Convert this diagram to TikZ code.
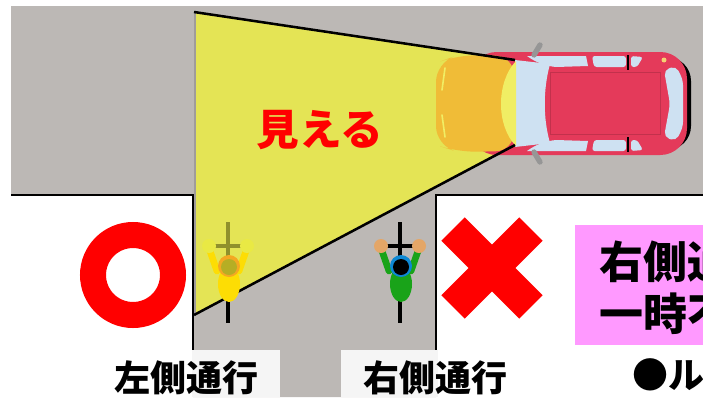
\documentclass[tikz,border=0pt]{standalone}
\usepackage{fontspec}
\usepackage{xcolor}
\usetikzlibrary{positioning}
\newfontfamily\jp{Noto Sans CJK JP}
\definecolor{road}{RGB}{188,184,181}
\definecolor{beam}{RGB}{228,228,85}
\definecolor{carred}{RGB}{228,58,90}
\definecolor{hood}{RGB}{240,188,55}
\definecolor{lit}{RGB}{240,238,100}
\definecolor{glass}{RGB}{206,225,242}
\definecolor{mirror}{RGB}{150,150,150}
\definecolor{pinkbg}{RGB}{255,153,255}
\definecolor{labelbg}{RGB}{245,245,245}
\tikzset{kerb/.style={line width=2.2pt, line join=miter}}
\tikzset{beamedge/.style={line width=1.9pt, black}}
\tikzset{lbl/.style={inner sep=0pt, font=\jp\bfseries\fontsize{27}{30}\selectfont}}
\tikzset{seen/.style={inner sep=0pt, text=red, font=\jp\bfseries\fontsize{32}{36}\selectfont}}
\tikzset{ruletext/.style={inner sep=0pt, align=left, font=\jp\bfseries\fontsize{33}{39}\selectfont}}
\tikzset{wheel/.style={line width=2.4pt, draw=bar}}
\tikzset{arm/.style={line width=5pt, draw=shirt, line cap=round}}

\begin{document}
\begin{tikzpicture}[x=0.75pt, y=-0.75pt]
    \useasboundingbox (0,0) rectangle (703,397);
    \clip (0,0) rectangle (703,397);

    % crossroads
    \fill[road] (11,6) -- (703,6) -- (703,195) -- (436,195) -- (436,397) -- (193,397) -- (193,195) -- (11,195) -- cycle;
    \draw[kerb] (11,195) -- (193,195) -- (193,350);
    \draw[kerb] (703,195) -- (436,195) -- (436,350);

    % headlight beam
    \fill[beam] (194,12) -- (515,60) -- (515,145) -- (194,315) -- cycle;
    \draw[road!85!black, line width=1pt] (195,13) -- (195,314);

    % car, seen from above
    \fill[black, rounded corners=18] (600,57) rectangle (691,150);
    \fill[carred, rounded corners=20] (470,52) rectangle (687,155);
    \fill[hood, rounded corners=14] (514,56) -- (458,55) -- (436,63) -- (436,145) -- (458,152) -- (514,151) -- cycle;
    \draw[lit, line width=1.2pt, line cap=round] (445,68) -- (442,90);
    \draw[lit, line width=1.2pt, line cap=round] (442,115) -- (445,137);
    \fill[glass] (515,60) -- (550,64) .. controls (543,90) and (543,118) .. (550,143) -- (515,147) -- cycle;
    \fill[lit] (516,61) .. controls (496,82) and (496,126) .. (516,146) -- cycle;
    \draw[carred!85!black, line width=0.4pt] (550,72) rectangle (660,134);
    \fill[glass] (527,56) -- (586,56) -- (588,66) -- (556,67) .. controls (545,66) and (535,62) .. cycle;
    \fill[glass] (527,151) -- (586,151) -- (588,141) -- (556,140) .. controls (545,141) and (535,145) .. cycle;
    \fill[glass, rounded corners=2] (592,56) -- (626,56) -- (626,67) -- (594,67) -- cycle;
    \fill[glass, rounded corners=2] (592,151) -- (626,151) -- (626,140) -- (594,140) -- cycle;
    \fill[glass, rounded corners=2] (631,56) -- (643,57) -- (637,67) -- (631,67) -- cycle;
    \fill[glass, rounded corners=2] (631,151) -- (643,150) -- (637,140) -- (631,140) -- cycle;
    \fill[glass, rounded corners=4] (664,70) -- (676,66) -- (683,80) -- (683,127) -- (676,141) -- (664,137) -- (670,104) -- cycle;
    \draw[black, line width=1.2pt] (628,55) -- (628,70) (628,137) -- (628,152);
    \draw[mirror, line width=4pt, line cap=round] (534,55) -- (540,45);
    \draw[mirror, line width=4pt, line cap=round] (534,152) -- (540,162);
    \fill[hood!70!white] (664,60) circle [radius=2.5];

    \draw[beamedge] (194,12) -- (515,60);
    \draw[beamedge] (194,315) -- (515,145);

    % cyclist keeping left, inside the beam
    \begin{scope}[shift={(228,246)}]
        \colorlet{bar}{black!35!beam!80!olive}
        \colorlet{shirt}{yellow!80!orange}
        \draw[wheel] (0,-24) -- (0,10);
        \draw[wheel, draw=black] (0,52) -- (0,77);
        \draw[wheel] (-13,0) -- (13,0);
        \draw[arm] (-18,5) -- (-11,25);
        \draw[arm] (18,5) -- (11,25);
        \fill[beam!80!yellow] (-19,0) circle [radius=7];
        \fill[beam!80!yellow] (19,0) circle [radius=7];
        \fill[shirt] (1,38) ellipse [x radius=11, y radius=18];
        \fill[orange!60!beam] (1,20) circle [radius=11];
        \fill[olive!55!beam] (1,21) circle [radius=8];
    \end{scope}

    % cyclist keeping right
    \begin{scope}[shift={(400,246)}]
        \colorlet{bar}{black}
        \colorlet{shirt}{green!60!black!90!white}
        \draw[wheel] (0,-24) -- (0,77);
        \draw[wheel] (-13,0) -- (13,0);
        \draw[arm] (-18,5) -- (-11,25);
        \draw[arm] (18,5) -- (11,25);
        \fill[brown!60!orange!70!white] (-19,0) circle [radius=7];
        \fill[brown!60!orange!70!white] (19,0) circle [radius=7];
        \fill[shirt] (1,38) ellipse [x radius=11, y radius=18];
        \fill[cyan!70!blue] (1,20) circle [radius=11];
        \fill[black] (1,21) circle [radius=8];
    \end{scope}

    % right / wrong marks
    \draw[red, line width=19.5pt] (133,275) circle [radius=40];
    \fill[red, rotate around={45:(492,268)}] (437,251.5) rectangle (547,284.5);
    \fill[red, rotate around={-45:(492,268)}] (437,251.5) rectangle (547,284.5);

    \node[seen] (seen) at (320,130) {見える};

    \fill[pinkbg] (575,225) rectangle (703,345);
    \node[ruletext, anchor=west] (rule) at (599,288) {右側通\\一時不};

    \fill[labelbg] (192,350) rectangle (280,397);
    \fill[labelbg] (341,350) rectangle (438,397);
    \node[lbl] (leftlbl) at (186,378) {左側通行};
    \node[lbl] (rightlbl) at (435,378) {右側通行};
    \node[lbl, anchor=west] (note) at (632,375) {●ルール};
\end{tikzpicture}
\end{document}
